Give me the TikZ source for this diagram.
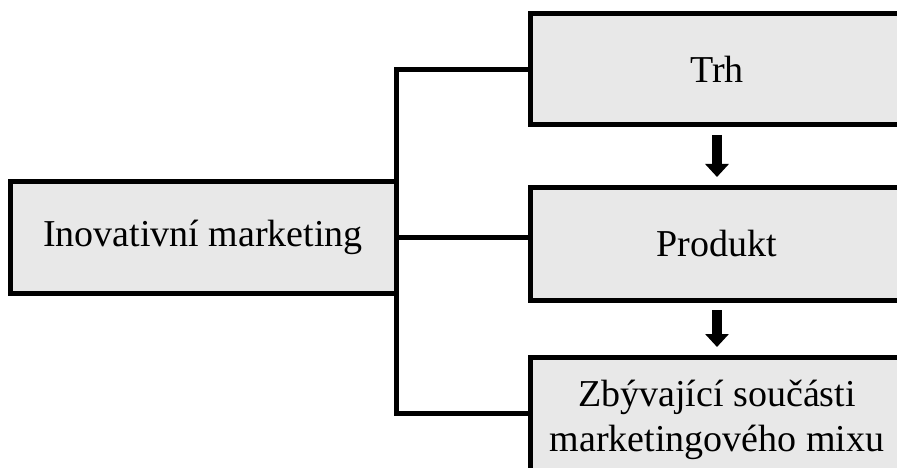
\documentclass[tikz,border=0pt]{standalone}
\usepackage{fontspec}
\setmainfont{Liberation Serif}
\usetikzlibrary{arrows.meta}
\begin{document}
\begin{tikzpicture}[x=1pt, y=-1pt,
        box/.style={rectangle, draw, fill=boxgray, line width=5pt, outer sep=0pt, align=center, font=\fontsize{38}{45}\selectfont},
        conn/.style={line width=5pt},
        arrow/.style={line width=10pt, -{Triangle[width=23pt,length=13pt]}, shorten <=10pt, shorten >=10pt}
    ]
        \definecolor{boxgray}{RGB}{232,232,232}
        \useasboundingbox (0,0) rectangle (897,468);
        \node[box, minimum width=386pt, minimum height=112pt] (inovace) at (203,237) {Inovativní marketing};
        \node[box, minimum width=374pt, minimum height=111pt] (trh) at (717,69.5) {Trh};
        \node[box, minimum width=374pt, minimum height=113pt] (produkt) at (717,243.5) {Produkt};
        \node[box, minimum width=374pt, minimum height=126pt] (zbytek) at (717,420) {Zbývající součásti\\marketingového mixu};
        
        \draw[conn] (trh.west) -| (inovace.east);
        \draw[conn] (zbytek.west |- 0,413) -| (inovace.east);
        \draw[conn] (inovace.east) -- (inovace.east -| produkt.west);
        \draw[arrow] (trh) -- (produkt);
        \draw[arrow] (produkt) -- (zbytek);
    \end{tikzpicture}
\end{document}
